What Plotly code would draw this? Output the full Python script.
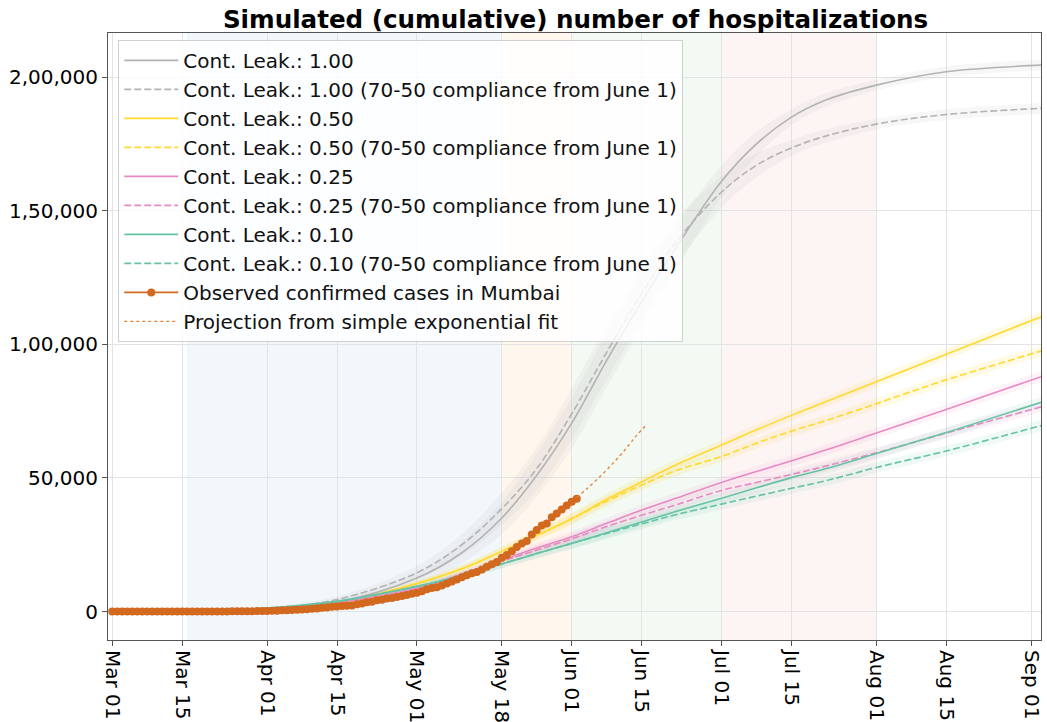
import plotly.graph_objects as go
import pandas as pd

# ---------------- data ----------------
sim_dates = ["2020-03-01", "2020-03-15", "2020-04-01", "2020-04-15", "2020-05-01", "2020-05-10",
             "2020-05-18", "2020-05-25", "2020-06-01", "2020-06-08", "2020-06-15", "2020-06-22",
             "2020-07-01", "2020-07-08", "2020-07-15", "2020-07-22", "2020-08-01", "2020-08-15",
             "2020-09-03"]

gray_solid = [0, 100, 1000, 3500, 12500, 22000, 35000, 51000, 70500, 94000, 116000, 136500,
              161000, 175000, 185000, 191500, 197000, 202000, 204500]
gray_dash = [0, 100, 1200, 4500, 14500, 25000, 38500, 53500, 74000, 97000, 119000, 138500,
             157000, 167000, 173500, 178000, 182400, 186000, 188300]
yellow_solid = [0, 100, 1000, 3200, 10500, 16000, 22500, 28500, 34700, 42000, 48500, 55000,
                62300, 68000, 73400, 78600, 86000, 96300, 110300]
yellow_dash = [0, 100, 1000, 3200, 10500, 16000, 22500, 28500, 34700, 41300, 47300, 52800,
               58000, 63000, 67500, 71500, 77800, 86700, 97500]
pink_solid = [0, 100, 1000, 3300, 8800, 14000, 19300, 23800, 28000, 33000, 38000, 42500,
              48300, 52400, 56400, 60500, 66800, 75600, 87900]
pink_dash = [0, 100, 1000, 3200, 8500, 13500, 18800, 23000, 27200, 31800, 36000, 40000,
             45300, 48300, 51300, 54500, 59400, 66800, 76600]
green_solid = [0, 150, 1300, 3800, 9400, 13500, 17800, 21700, 25500, 29500, 33500, 37500,
               42400, 46300, 50100, 53500, 59100, 67000, 78300]
green_dash = [0, 150, 1300, 3800, 9400, 13500, 17800, 21700, 25500, 29200, 32800, 36300,
              40200, 43200, 46100, 49000, 53900, 60100, 69600]

# half-widths of the uncertainty bands
gray_band = [0, 100, 400, 1200, 2500, 4000, 6000, 8000, 9500, 10000, 10000, 8500,
             6000, 4500, 3000, 2500, 2000, 2000, 2000]
color_band = [0, 50, 200, 500, 1000, 1300, 1600, 1800, 2000, 2000, 2000, 2000,
              2000, 2000, 2000, 2000, 2000, 2000, 2000]

obs_start = "2020-03-01"
observed = [0, 0, 0, 0, 0, 0, 0, 0, 0, 0,
            2, 3, 5, 7, 8, 9, 11, 14, 17, 20, 26, 34, 40, 52, 57, 64, 82, 88, 109, 151, 167,
            238, 278, 330, 433, 490, 526, 642, 782, 876, 993, 1146, 1399, 1540, 1756, 1896,
            2073, 2120, 2268, 2724, 3032, 3451, 3683, 4205, 4447, 4870, 5049, 5407, 5776, 6169, 6644,
            7061, 7625, 8359, 8800, 9123, 9758, 10527, 11219, 11967, 12864, 13564, 14355, 14781,
            15747, 16738, 17671, 18555, 20150, 21152, 22563, 24118, 25500, 26394, 28817, 30542,
            32218, 32974, 35273, 36710, 38220, 39686,
            41099, 42216]

proj_dates = ["2020-06-02", "2020-06-04", "2020-06-06", "2020-06-08", "2020-06-10",
              "2020-06-12", "2020-06-14", "2020-06-16"]
proj_vals = [42700, 45900, 49300, 53000, 57000, 61300, 65900, 70000]

tick_dates = ["2020-03-01", "2020-03-15", "2020-04-01", "2020-04-15", "2020-05-01", "2020-05-18",
              "2020-06-01", "2020-06-15", "2020-07-01", "2020-07-15", "2020-08-01", "2020-08-15",
              "2020-09-01"]
tick_labels = ["Mar 01", "Mar 15", "Apr 01", "Apr 15", "May 01", "May 18", "Jun 01", "Jun 15",
               "Jul 01", "Jul 15", "Aug 01", "Aug 15", "Sep 01"]
y_ticks = [0, 50000, 100000, 150000, 200000]
y_labels = ["0", "50,000", "1,00,000", "1,50,000", "2,00,000"]

phases = [("2020-03-16", "2020-05-18", "rgba(31,119,180,0.06)"),
          ("2020-05-18", "2020-06-01", "rgba(255,127,14,0.07)"),
          ("2020-06-01", "2020-07-01", "rgba(44,160,44,0.06)"),
          ("2020-07-01", "2020-08-01", "rgba(214,39,40,0.05)")]

series = [
    ("Cont. Leak.: 1.00", gray_solid, gray_band, "#b3b3b3", "solid", "rgba(170,170,170,0.09)"),
    ("Cont. Leak.: 1.00 (70-50 compliance from June 1)", gray_dash, gray_band, "#b3b3b3", "dash", "rgba(170,170,170,0.09)"),
    ("Cont. Leak.: 0.50", yellow_solid, color_band, "#ffd92f", "solid", "rgba(255,217,47,0.13)"),
    ("Cont. Leak.: 0.50 (70-50 compliance from June 1)", yellow_dash, color_band, "#ffd92f", "dash", "rgba(255,217,47,0.13)"),
    ("Cont. Leak.: 0.25", pink_solid, color_band, "#e78ac3", "solid", "rgba(231,138,195,0.10)"),
    ("Cont. Leak.: 0.25 (70-50 compliance from June 1)", pink_dash, color_band, "#e78ac3", "dash", "rgba(231,138,195,0.10)"),
    ("Cont. Leak.: 0.10", green_solid, color_band, "#66c2a5", "solid", "rgba(102,194,165,0.10)"),
    ("Cont. Leak.: 0.10 (70-50 compliance from June 1)", green_dash, color_band, "#66c2a5", "dash", "rgba(102,194,165,0.10)"),
]

FONT = "DejaVu Sans"
fig = go.Figure()

# uncertainty bands
for name, vals, band, col, dash, fcol in series:
    lo = [v - b for v, b in zip(vals, band)]
    hi = [v + b for v, b in zip(vals, band)]
    fig.add_trace(go.Scatter(x=sim_dates, y=lo, mode="lines", line=dict(width=0, shape="spline"),
                             showlegend=False, hoverinfo="skip"))
    fig.add_trace(go.Scatter(x=sim_dates, y=hi, mode="lines", line=dict(width=0, shape="spline"),
                             fill="tonexty", fillcolor=fcol, showlegend=False, hoverinfo="skip"))

# lines
for i, (name, vals, band, col, dash, fcol) in enumerate(series):
    fig.add_trace(go.Scatter(x=sim_dates, y=vals, mode="lines", name=name, legendgroup=f"g{i}",
                             line=dict(color=col, width=1.6, shape="spline",
                                       dash="solid" if dash == "solid" else "7px,3px")))

obs_dates = pd.date_range(obs_start, periods=len(observed), freq="D")
fig.add_trace(go.Scatter(x=obs_dates, y=observed, mode="lines+markers",
                         name="Observed confirmed cases in Mumbai", legendgroup="g8",
                         line=dict(color="#d2691e", width=1.8),
                         marker=dict(color="#d2691e", size=8)))
fig.add_trace(go.Scatter(x=proj_dates, y=proj_vals, mode="lines",
                         name="Projection from simple exponential fit", legendgroup="g9",
                         line=dict(color="#e8803a", width=1.3, dash="dot", shape="spline")))

for x0, x1, c in phases:
    fig.add_shape(type="rect", xref="x", yref="paper", x0=x0, x1=x1, y0=0, y1=1,
                  fillcolor=c, line=dict(width=0), layer="below")

fig.update_layout(
    width=1047, height=722,
    margin=dict(l=108, r=6, t=33, b=82, autoexpand=False),
    paper_bgcolor="white", plot_bgcolor="white",
    font=dict(family=FONT, size=20, color="black"),
    title=dict(text="<b>Simulated (cumulative) number of hospitalizations</b>",
               font=dict(family=FONT, size=24.6, color="black"),
               x=0.5497, xanchor="center", xref="container",
               y=1 - 19 / 722, yanchor="middle", yref="container"),
    legend=dict(x=0.011, y=0.9886, xanchor="left", yanchor="top",
                bgcolor="rgba(255,255,255,0.82)", bordercolor="#d0d0d0", borderwidth=1,
                font=dict(family=FONT, size=20, color="#111"),
                traceorder="grouped", tracegroupgap=0, itemwidth=54),
    showlegend=True,
)
fig.update_xaxes(range=["2020-02-29 03:30", "2020-09-02 23:00"], automargin=False,
                 tickvals=tick_dates, ticktext=tick_labels, tickangle=90,
                 showgrid=True, gridcolor="#e3e3e3", gridwidth=1,
                 showline=True, linecolor="#555", linewidth=1, mirror=True,
                 ticks="outside", ticklen=5, tickcolor="#555", zeroline=False,
                 tickfont=dict(family=FONT, size=20, color="black"))
fig.update_yaxes(range=[-10660, 216500], tickvals=y_ticks, ticktext=y_labels, automargin=False,
                 showgrid=True, gridcolor="#e3e3e3", gridwidth=1,
                 showline=True, linecolor="#555", linewidth=1, mirror=True,
                 ticks="outside", ticklen=5, tickcolor="#555", zeroline=False,
                 tickfont=dict(family=FONT, size=20, color="black"))

fig.write_html("out.html", config={"displayModeBar": False},
               post_script="document.body.style.margin='0';document.body.style.overflow='hidden';")
